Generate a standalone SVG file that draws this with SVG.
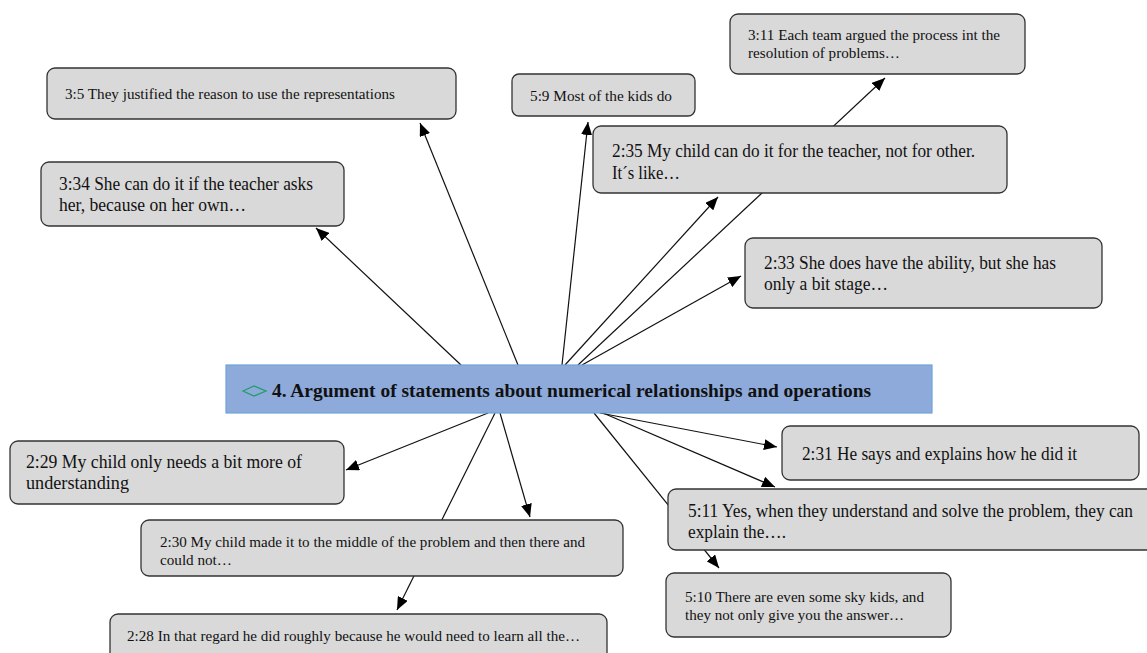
<svg xmlns="http://www.w3.org/2000/svg" width="1147" height="653" viewBox="0 0 1147 653">
<style>
.box{fill:#d9d9d9;stroke:#333;stroke-width:1.3}
.t{font-family:"Liberation Serif","Times New Roman",serif;fill:#111}
.s{font-size:15px}
.l{font-size:18px}
.c{stroke:#111;stroke-width:1.2;fill:none;marker-end:url(#ah)}
</style>
<defs>
<marker id="ah" markerUnits="userSpaceOnUse" markerWidth="13" markerHeight="11" refX="13" refY="5.5" orient="auto">
<path d="M0,0 L13,5.5 L0,11 z" fill="#000"/>
</marker>
</defs>
<rect width="1147" height="653" fill="#fff"/>
<g id="connectors">
<line class="c" x1="461" y1="365" x2="316" y2="228"/>
<line class="c" x1="518" y1="365" x2="420" y2="123"/>
<line class="c" x1="562" y1="365" x2="588" y2="122"/>
<line class="c" x1="565" y1="365" x2="718" y2="197"/>
<line class="c" x1="578" y1="365" x2="885" y2="78"/>
<line class="c" x1="582" y1="365" x2="741" y2="276"/>
<line class="c" x1="488" y1="413" x2="346" y2="470"/>
<line class="c" x1="495" y1="413" x2="397" y2="610"/>
<line class="c" x1="500" y1="413" x2="530" y2="517"/>
<line class="c" x1="594" y1="413" x2="719" y2="568"/>
<line class="c" x1="600" y1="413" x2="777" y2="447"/>
<line class="c" x1="603" y1="413" x2="775" y2="487"/>
</g>
<g id="n35">
<rect class="box" x="47" y="68" width="409" height="51" rx="8"/>
<text class="t s" x="65" y="99" textLength="330" lengthAdjust="spacingAndGlyphs">3:5 They justified the reason to use the representations</text>
</g>
<g id="n334">
<rect class="box" x="41" y="162" width="303" height="64" rx="8"/>
<text class="t l" x="59" y="190" textLength="254" lengthAdjust="spacingAndGlyphs">3:34 She can do it if the teacher asks</text>
<text class="t l" x="59" y="211" textLength="187" lengthAdjust="spacingAndGlyphs">her, because on her own…</text>
</g>
<g id="n59">
<rect class="box" x="512" y="74" width="183" height="42" rx="7"/>
<text class="t s" x="530" y="101" textLength="142" lengthAdjust="spacingAndGlyphs">5:9 Most of the kids do</text>
</g>
<g id="n311">
<rect class="box" x="730" y="14" width="295" height="60" rx="8"/>
<text class="t s" x="748" y="40" textLength="252" lengthAdjust="spacingAndGlyphs">3:11 Each team argued the process int the</text>
<text class="t s" x="748" y="58" textLength="152" lengthAdjust="spacingAndGlyphs">resolution of problems…</text>
</g>
<g id="n235">
<rect class="box" x="593" y="126" width="414" height="67" rx="8"/>
<text class="t l" x="612" y="157" textLength="363" lengthAdjust="spacingAndGlyphs">2:35 My child can do it for the teacher, not for other.</text>
<text class="t l" x="612" y="179" textLength="68" lengthAdjust="spacingAndGlyphs">It´s like…</text>
</g>
<g id="n233">
<rect class="box" x="745" y="238" width="357" height="70" rx="8"/>
<text class="t l" x="764" y="269" textLength="292" lengthAdjust="spacingAndGlyphs">2:33 She does have the ability, but she has</text>
<text class="t l" x="764" y="290" textLength="124" lengthAdjust="spacingAndGlyphs">only a bit stage…</text>
</g>
<g id="central">
<rect x="226" y="365" width="706" height="48" fill="#8eaadb" stroke="#6fa3d8" stroke-width="1.2"/>
<polygon points="243,391 254,386 266,391 254,396" fill="none" stroke="#1f9e6a" stroke-width="1.3"/>
<text class="t" x="272" y="397" font-size="19" font-weight="bold" textLength="599" lengthAdjust="spacingAndGlyphs">4. Argument of statements about numerical relationships and operations</text>
</g>
<g id="n229">
<rect class="box" x="10" y="441" width="334" height="63" rx="8"/>
<text class="t l" x="26" y="468" textLength="276" lengthAdjust="spacingAndGlyphs">2:29 My child only needs a bit more of</text>
<text class="t l" x="26" y="489" textLength="103" lengthAdjust="spacingAndGlyphs">understanding</text>
</g>
<g id="n230">
<rect class="box" x="141" y="520" width="482" height="56" rx="8"/>
<text class="t s" x="160" y="547" textLength="425" lengthAdjust="spacingAndGlyphs">2:30 My child made it to the middle of the problem and then there and</text>
<text class="t s" x="160" y="565" textLength="72" lengthAdjust="spacingAndGlyphs">could not…</text>
</g>
<g id="n228">
<rect class="box" x="110" y="614" width="497" height="50" rx="8"/>
<text class="t s" x="127" y="641" textLength="453" lengthAdjust="spacingAndGlyphs">2:28 In that regard he did roughly because he would need to learn all the…</text>
</g>
<g id="n231">
<rect class="box" x="782" y="426" width="357" height="54" rx="8"/>
<text class="t l" x="802" y="460" textLength="275" lengthAdjust="spacingAndGlyphs">2:31 He says and explains how he did it</text>
</g>
<g id="n511">
<rect class="box" x="668" y="489" width="490" height="61" rx="8"/>
<text class="t l" x="688" y="517" textLength="445" lengthAdjust="spacingAndGlyphs">5:11 Yes, when they understand and solve the problem, they can</text>
<text class="t l" x="688" y="538" textLength="98" lengthAdjust="spacingAndGlyphs">explain the….</text>
</g>
<g id="n510">
<rect class="box" x="666" y="573" width="285" height="64" rx="8"/>
<text class="t s" x="685" y="602" textLength="239" lengthAdjust="spacingAndGlyphs">5:10 There are even some sky kids, and</text>
<text class="t s" x="685" y="620" textLength="219" lengthAdjust="spacingAndGlyphs">they not only give you the answer…</text>
</g>
</svg>
